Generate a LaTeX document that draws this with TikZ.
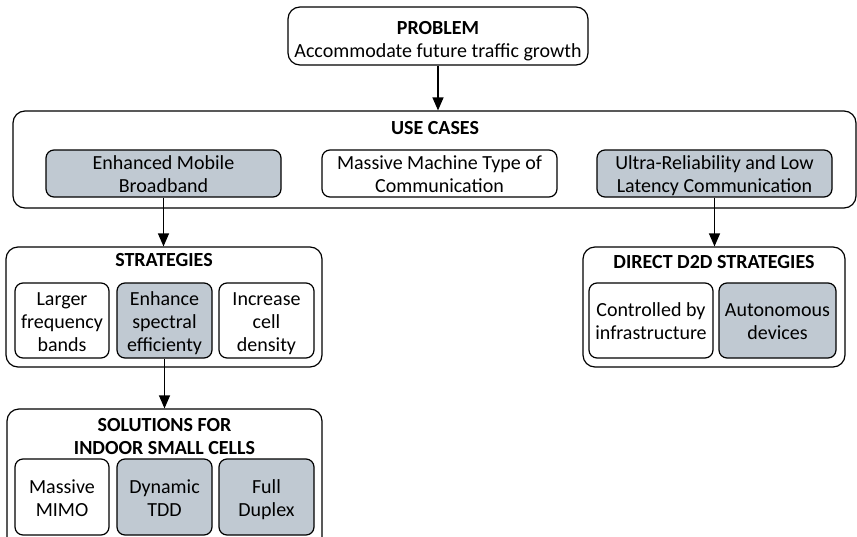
\documentclass[tikz,border=0pt]{standalone}
\usepackage{fontspec}
\setmainfont{Carlito}
\usetikzlibrary{arrows.meta}
\definecolor{boxgray}{RGB}{192,201,210}
\newcommand{\lstrut}{\rule[-3.9pt]{0pt}{23pt}}
\tikzset{
  frame/.style={draw=black, line width=1.2pt, rounded corners=12pt, inner sep=0pt},
  item/.style={draw=black, line width=1.2pt, rounded corners=8pt, inner sep=0pt, align=center,
    font=\fontsize{20}{23}\selectfont},
  grayitem/.style={item, fill=boxgray},
  ttl/.style={inner sep=0pt, align=center, font=\fontsize{20}{23}\selectfont\bfseries},
  txt/.style={inner sep=0pt, align=center, font=\fontsize{20}{23}\selectfont},
  arr/.style={line width=1.2pt, -{Triangle[width=11pt,length=13pt]}}
}
\begin{document}
\begin{tikzpicture}[x=1pt,y=-1pt]
\useasboundingbox (0,0) rectangle (857,536);
\clip (0,0) rectangle (857,536);
% problem
\node[frame, minimum width=300pt, minimum height=58pt] (prob) at (438,36) {};
\node[txt] (probtxt) at (438,41.5) {\strut\textbf{PROBLEM}\\\strut Accommodate future traffic growth};
% use cases
\node[frame, minimum width=843pt, minimum height=97pt] (uc) at (434.5,159.5) {};
\node[ttl] (uctitle) at (435,130) {\strut USE CASES};
\node[grayitem, minimum width=235pt, minimum height=47pt] (embb) at (163.5,173.5) {\lstrut Enhanced Mobile\\\lstrut Broadband};
\node[item, minimum width=235pt, minimum height=47pt] (mmtc) at (439.5,173.5) {\lstrut Massive Machine Type of\\\lstrut Communication};
\node[grayitem, minimum width=235pt, minimum height=47pt] (urllc) at (714.5,173.5) {\lstrut Ultra-Reliability and Low\\\lstrut Latency Communication};
% strategies
\node[frame, minimum width=316pt, minimum height=120pt] (strat) at (164,307) {};
\node[ttl] (strattitle) at (164,262) {\strut STRATEGIES};
\node[item, minimum width=94pt, minimum height=75pt] (larger) at (62,320.5) {\lstrut Larger\\\lstrut frequency\\\lstrut bands};
\node[grayitem, minimum width=95pt, minimum height=75pt] (enhance) at (164.5,320.5) {\lstrut Enhance\\\lstrut spectral\\\lstrut efficienty};
\node[item, minimum width=95pt, minimum height=75pt] (increase) at (266.5,320.5) {\lstrut Increase\\\lstrut cell\\\lstrut density};
% solutions
\node[frame, minimum width=315pt, minimum height=150pt] (sol) at (164.5,484) {};
\node[ttl] (soltitle) at (164.5,438) {\strut SOLUTIONS FOR\\\strut INDOOR SMALL CELLS};
\node[item, minimum width=94pt, minimum height=76pt] (mimo) at (62,497) {\lstrut Massive\\\lstrut MIMO};
\node[grayitem, minimum width=95pt, minimum height=76pt] (tdd) at (164.5,497) {\lstrut Dynamic\\\lstrut TDD};
\node[grayitem, minimum width=95pt, minimum height=76pt] (full) at (266.5,497) {\lstrut Full\\\lstrut Duplex};
% d2d
\node[frame, minimum width=262pt, minimum height=120pt] (d2d) at (714,307) {};
\node[ttl] (d2dtitle) at (714,263.5) {\strut DIRECT D2D STRATEGIES};
\node[item, minimum width=124pt, minimum height=75pt] (ctrl) at (651,320.5) {\lstrut Controlled by\\\lstrut infrastructure};
\node[grayitem, minimum width=117pt, minimum height=75pt] (auto) at (777.5,320.5) {\lstrut Autonomous\\\lstrut devices};
% arrows
\draw[arr] (prob.south) -- (prob.south |- uc.north);
\draw[arr] (embb.south) -- (embb.south |- strat.north);
\draw[arr] (urllc.south) -- (urllc.south |- d2d.north);
\draw[arr] (enhance.south) -- (enhance.south |- sol.north);
\end{tikzpicture}
\end{document}
